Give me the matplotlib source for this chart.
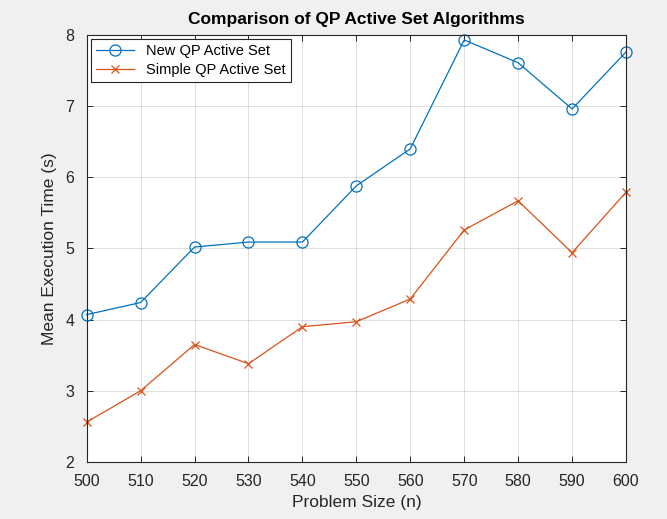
import matplotlib
matplotlib.use("Agg")
import matplotlib.pyplot as plt

# data
sizes = [500, 510, 520, 530, 540, 550, 560, 570, 580, 590, 600]
new_qp = [4.07, 4.24, 5.02, 5.09, 5.09, 5.88, 6.40, 7.93, 7.61, 6.96, 7.76]
simple_qp = [2.56, 3.00, 3.65, 3.38, 3.90, 3.97, 4.29, 5.26, 5.67, 4.94, 5.79]
x_ticks = [500, 510, 520, 530, 540, 550, 560, 570, 580, 590, 600]
y_ticks = [2, 3, 4, 5, 6, 7, 8]

plt.rcParams["font.family"] = ["Liberation Sans", "DejaVu Sans"]

fig = plt.figure(figsize=(6.67, 5.19), dpi=100, facecolor="#f0f0f0")
ax = fig.add_axes([0.130, 0.110, 0.8085, 0.8226])

ax.plot(sizes, new_qp, color="#0072BD", marker="o", mfc="none", ms=8,
        lw=0.9, mew=0.9, label="New QP Active Set", clip_on=False)
ax.plot(sizes, simple_qp, color="#D95319", marker="x", ms=5.5,
        lw=0.9, mew=0.9, label="Simple QP Active Set", clip_on=False)

ax.set_xlim(500, 600); ax.set_ylim(2, 8)
ax.set_xticks(x_ticks); ax.set_yticks(y_ticks)
ax.tick_params(direction="in", top=True, right=True, labelsize=11.5,
               length=4, width=0.7, colors="#262626")
ax.tick_params(axis="x", pad=9)
ax.tick_params(axis="y", pad=9)
ax.grid(True, color="#262626", alpha=0.15, lw=0.7)
for s in ax.spines.values():
    s.set_color("#262626"); s.set_linewidth(0.8)

ax.set_xlabel("Problem Size (n)", fontsize=12.5, color="#262626", labelpad=4)
ax.set_ylabel("Mean Execution Time (s)", fontsize=12.5, color="#262626",
              labelpad=6)
ax.set_title("Comparison of QP Active Set Algorithms", fontsize=12.5,
             fontweight="bold", pad=8)

leg = ax.legend(loc="upper left", fontsize=10.5, fancybox=False,
                edgecolor="#262626", framealpha=1, borderaxespad=0.3,
                handlelength=2.6, labelspacing=0.3, borderpad=0.35)
leg.get_frame().set_linewidth(0.8)

fig.savefig("out.png", dpi=100, facecolor=fig.get_facecolor())
